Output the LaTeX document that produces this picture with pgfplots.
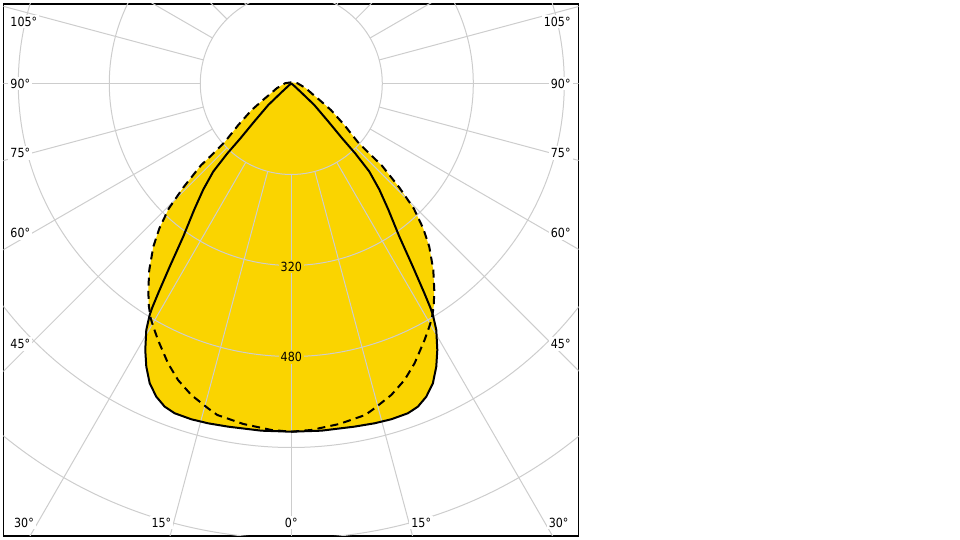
\documentclass[border=0pt]{standalone}
\usepackage{fontspec}
\setmainfont{DejaVu Sans}[FakeStretch=0.88]
\usepackage{pgfplots}
\usepackage{pgfplotstable}
\pgfplotsset{compat=1.18}
\definecolor{fillc}{RGB}{250,212,0}
\definecolor{gridc}{RGB}{205,205,205}
\tikzset{
  lbl/.style={font=\fontsize{6.3}{7.5}\selectfont, fill=white, inner sep=1pt},
  gridline/.style={draw=gridc, line width=0.5pt},
}

% solid curve: angle (deg, 0 = straight down), intensity (cd)
\pgfplotstableread{
a I
-90 0
-52 5
-48.01 23.66
-46.93 55.36
-44.24 93.25
-42.84 131.88
-42.44 166.77
-41.55 206.75
-39.70 242.24
-37.59 279.58
-35.22 329.28
-33.58 386.22
-32.41 436.31
-31.82 463.51
-31.46 477.13
-30.47 502.82
-28.72 534.28
-27.11 559.40
-25.28 582.95
-23.32 599.66
-21.39 610.30
-19.47 615.03
-16.58 616.03
-13.77 615.14
-10.40 613.50
-4.94 612.73
0 612.22
4.94 612.73
10.40 613.50
13.77 615.14
16.58 616.03
19.47 615.03
21.39 610.30
23.32 599.66
25.28 582.95
27.11 559.40
28.72 534.28
30.47 502.82
31.46 477.13
31.82 463.51
32.41 436.31
33.58 386.22
35.22 329.28
37.59 279.58
39.70 242.24
41.55 206.75
42.44 166.77
42.84 131.88
44.24 93.25
46.93 55.36
48.01 23.66
52 5
90 0
}\solid

% dashed curve
\pgfplotstableread{
a I
-180 2.1
-92.9 10.6
-78.69 17.93
-71.80 27.02
-64.00 40.10
-60.63 53.06
-56.21 83.78
-51.94 118.35
-48.66 155.72
-48.09 184.28
-47.82 214.72
-46.08 263.61
-44.42 307.73
-42.31 344.75
-40.21 375.77
-37.29 412.15
-34.70 441.63
-32.70 463.83
-30.91 481.19
-29.57 491.64
-27.46 508.25
-23.78 537.60
-20.91 558.08
-17.80 575.22
-14.38 589.56
-12.58 597.20
-8.02 604.60
-3.30 610.25
0 612.22
3.30 610.25
8.02 604.60
12.58 597.20
14.38 589.56
17.80 575.22
20.91 558.08
23.78 537.60
27.46 508.25
29.57 491.64
30.91 481.19
32.70 463.83
34.70 441.63
37.29 412.15
40.21 375.77
42.31 344.75
44.42 307.73
46.08 263.61
47.82 214.72
48.09 184.28
48.66 155.72
51.94 118.35
56.21 83.78
60.63 53.06
64.00 40.10
71.80 27.02
78.69 17.93
92.9 10.6
180 2.1
}\dashedc

\begin{document}
\begin{tikzpicture}
\begin{axis}[
  x=0.284375pt, y=0.284375pt,
  xmin=-506, xmax=505, ymin=-795.6, ymax=139.8,
  axis line style={line width=0.8pt, black},
  ticks=none,
  clip=true,
]
\coordinate (BL) at (rel axis cs:0,0);
% fills (union)
\addplot[fill=fillc, draw=none] table[x expr={\thisrow{I}*sin(\thisrow{a})}, y expr={-\thisrow{I}*cos(\thisrow{a})}] {\solid};
\addplot[fill=fillc, draw=none] table[x expr={\thisrow{I}*sin(\thisrow{a})}, y expr={-\thisrow{I}*cos(\thisrow{a})}] {\dashedc};
% polar grid
\pgfplotsinvokeforeach{0,15,...,345}{
  \draw[gridline] (axis cs:{160*sin(#1)},{-160*cos(#1)}) -- (axis cs:{1100*sin(#1)},{-1100*cos(#1)});
}
\draw[gridline] (axis cs:0,0) circle[radius=160];
\draw[gridline] (axis cs:0,0) circle[radius=320];
\draw[gridline] (axis cs:0,0) circle[radius=480];
\draw[gridline] (axis cs:0,0) circle[radius=640];
\draw[gridline] (axis cs:0,0) circle[radius=800];
% curves
\addplot[black, line width=1pt, line join=round] table[x expr={\thisrow{I}*sin(\thisrow{a})}, y expr={-\thisrow{I}*cos(\thisrow{a})}] {\solid};
\addplot[black, line width=1pt, line join=round, dash pattern=on 4pt off 2.6pt] table[x expr={\thisrow{I}*sin(\thisrow{a})}, y expr={-\thisrow{I}*cos(\thisrow{a})}] {\dashedc};
% intensity labels
\node[lbl, fill=fillc] at (axis cs:0,-322) {320};
\node[lbl, fill=fillc] at (axis cs:0,-481) {480};
% angle labels
\node[lbl, anchor=west] at (axis cs:-498,108.7) {105°};
\node[lbl, anchor=west] at (axis cs:-498,0) {90°};
\node[lbl, anchor=west] at (axis cs:-498,-122.2) {75°};
\node[lbl, anchor=west] at (axis cs:-498,-262.9) {60°};
\node[lbl, anchor=west] at (axis cs:-498,-458) {45°};
\node[lbl, anchor=east] at (axis cs:495.3,108.7) {105°};
\node[lbl, anchor=east] at (axis cs:495.3,0) {90°};
\node[lbl, anchor=east] at (axis cs:495.3,-122.2) {75°};
\node[lbl, anchor=east] at (axis cs:495.3,-262.9) {60°};
\node[lbl, anchor=east] at (axis cs:495.3,-458) {45°};
\node[lbl] at (axis cs:-470,-771.9) {30°};
\node[lbl] at (axis cs:-228.5,-771.9) {15°};
\node[lbl] at (axis cs:0,-771.9) {0°};
\node[lbl] at (axis cs:228.5,-771.9) {15°};
\node[lbl] at (axis cs:470,-771.9) {30°};
\end{axis}
\path (BL) ++(-1.75pt,-2pt) rectangle ++(480pt,270pt);
\end{tikzpicture}
\end{document}
